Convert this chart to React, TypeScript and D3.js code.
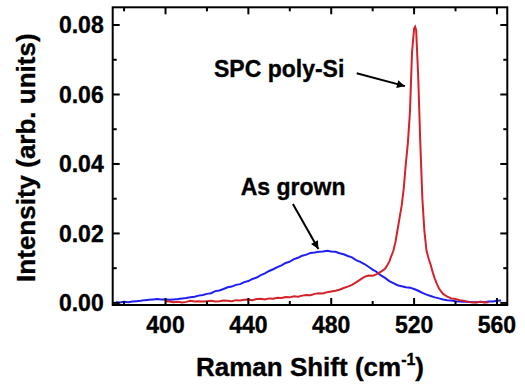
import * as d3 from "d3";

// ── Data ──────────────────────────────────────────────────────────────────────
const grownShift = [
  376, 378, 380, 382, 384, 386, 388, 390, 392, 394, 396, 398, 400, 402, 404,
  406, 408, 410, 412, 414, 416, 418, 420, 422, 424, 426, 428, 430, 432, 434,
  436, 438, 440, 442, 444, 446, 448, 450, 452, 454, 456, 458, 460, 462, 464,
  466, 468, 470, 472, 474, 476, 478, 480, 482, 484, 486, 488, 490, 492, 494,
  496, 498, 500, 502, 504, 506, 508, 510, 512, 514, 516, 518, 520, 522, 524,
  526, 528, 530, 532, 534, 536, 538, 540, 542, 544, 546, 548, 550, 552, 554,
  556, 558, 560, 562,
];
const grownIntensity = [
  0.0002, 0.0001, 0.0003, 0.0002, 0.0004, 0.0005, 0.0006, 0.0008, 0.0009,
  0.001, 0.0011, 0.001, 0.001, 0.0009, 0.001, 0.0011, 0.0013, 0.0014, 0.0016,
  0.0018, 0.0021, 0.0023, 0.0026, 0.0028, 0.0034, 0.0036, 0.004, 0.0045,
  0.0047, 0.0052, 0.0054, 0.006, 0.0063, 0.0069, 0.0073, 0.008, 0.0085,
  0.0092, 0.0097, 0.0103, 0.0108, 0.0115, 0.0119, 0.0126, 0.013, 0.0136,
  0.0139, 0.0144, 0.0145, 0.0147, 0.0148, 0.015, 0.0148, 0.0147, 0.0143,
  0.014, 0.0135, 0.0131, 0.0123, 0.0118, 0.0112, 0.0104, 0.0096, 0.0089,
  0.0079, 0.0072, 0.0063, 0.0057, 0.0051, 0.0048, 0.0045, 0.0044, 0.004,
  0.0035, 0.0029, 0.0024, 0.002, 0.0016, 0.0013, 0.001, 0.0008, 0.0007,
  0.0005, 0.0004, 0.0003, 0.0003, 0.0002, 0.0002, 0.0003, 0.0002, 0.0004,
  0.0004, 0.0006, 0.0007,
];

const spcShift = [
  400, 402, 404, 406, 408, 410, 412, 414, 416, 418, 420, 422, 424, 426, 428,
  430, 432, 434, 436, 438, 440, 442, 444, 446, 448, 450, 452, 454, 456, 458,
  460, 462, 464, 466, 468, 470, 472, 474, 476, 478, 480, 482, 484, 486, 488,
  490, 492, 494, 496, 498, 500, 502, 504, 506, 508, 509, 510, 511, 512, 513,
  514, 515, 516, 517, 518, 519, 520, 520.5, 521, 522, 523, 524, 525, 526, 527,
  528, 529, 530, 531, 532, 533, 534, 535, 536, 538, 540, 542, 544, 546, 548,
  550, 552, 554, 556,
];
const spcIntensity = [
  0.0005, 0.0004, 0.0002, 0.0003, 0.0001, 0.0003, 0.0006, 0.0004, 0.0005,
  0.0004, 0.0005, 0.0006, 0.0004, 0.0005, 0.0007, 0.0006, 0.0005, 0.0008,
  0.0007, 0.0009, 0.001, 0.0008, 0.0011, 0.0012, 0.001, 0.0013, 0.0012,
  0.0015, 0.0014, 0.0017, 0.0016, 0.0019, 0.0018, 0.0021, 0.0023, 0.0022,
  0.0026, 0.0028, 0.0027, 0.0031, 0.0033, 0.0035, 0.0038, 0.0043, 0.0047,
  0.0052, 0.0059, 0.0067, 0.0075, 0.0079, 0.0078, 0.0083, 0.009, 0.0098,
  0.0118, 0.0135, 0.015, 0.0175, 0.021, 0.0245, 0.028, 0.033, 0.04, 0.046,
  0.055, 0.072, 0.079, 0.0795, 0.0785, 0.065, 0.046, 0.03, 0.0205, 0.015,
  0.0128, 0.011, 0.0088, 0.007, 0.0055, 0.0042, 0.0033, 0.0026, 0.0022,
  0.0018, 0.0013, 0.0011, 0.0008, 0.0006, 0.0003, 0.0002, 0.0001, 0.0003,
  0.0001, 0.0002,
];

const xMajorTicks = [400, 440, 480, 520, 560];
const xMinorTicks = [380, 420, 460, 500, 540];
const yMajorTicks = [0, 0.02, 0.04, 0.06, 0.08];
const yMinorTicks = [0.01, 0.03, 0.05, 0.07];

// ── Dimensions ────────────────────────────────────────────────────────────────
const width = 525;
const height = 386;
const margin = { top: 7.3, right: 17.7, bottom: 81, left: 112.7 };
const font = "'Liberation Sans', Arial, sans-serif";
const blue = "#1f1ff5";
const red = "#d3222a";

export default function App() {
  const x = d3
    .scaleLinear()
    .domain([374.5, 565])
    .range([margin.left, width - margin.right]);
  const y = d3
    .scaleLinear()
    .domain([-0.0006, 0.0851])
    .range([height - margin.bottom, margin.top]);

  const line = d3
    .line<[number, number]>()
    .x((d) => x(d[0]))
    .y((d) => y(d[1]));

  const grown = grownShift.map((s, i) => [s, grownIntensity[i]] as [number, number]);
  const spc = spcShift.map((s, i) => [s, spcIntensity[i]] as [number, number]);

  const x0 = margin.left;
  const x1 = width - margin.right;
  const y0 = height - margin.bottom;
  const y1 = margin.top;

  const fmt = d3.format(".2f");

  return (
    <svg
      width={width}
      height={height}
      style={{ position: "absolute", left: 0, top: 0, background: "#fff" }}
      fontFamily={font}
      fontWeight="bold"
    >
      <defs>
        <marker
          id="arrow"
          viewBox="0 0 10 10"
          refX="10"
          refY="5"
          markerWidth="7"
          markerHeight="4"
          markerUnits="strokeWidth"
          orient="auto"
        >
          <path d="M0,0 L10,5 L0,10 z" fill="#000" />
        </marker>
      </defs>

      {/* curves */}
      <path d={line(grown) ?? ""} fill="none" stroke={blue} strokeWidth={2} />
      <path d={line(spc) ?? ""} fill="none" stroke={red} strokeWidth={2} />

      {/* ticks on all four sides */}
      {xMajorTicks.map((t) => (
        <g key={"xM" + t}>
          <line x1={x(t)} x2={x(t)} y1={y0} y2={y0 - 7} stroke="#000" strokeWidth={2} />
          <line x1={x(t)} x2={x(t)} y1={y1} y2={y1 + 7} stroke="#000" strokeWidth={2} />
          <text x={x(t)} y={333.3} textAnchor="middle" fontSize={23} stroke="#000" strokeWidth={0.35}>
            {t}
          </text>
        </g>
      ))}
      {xMinorTicks.map((t) => (
        <g key={"xm" + t}>
          <line x1={x(t)} x2={x(t)} y1={y0} y2={y0 - 4} stroke="#000" strokeWidth={2} />
          <line x1={x(t)} x2={x(t)} y1={y1} y2={y1 + 4} stroke="#000" strokeWidth={2} />
        </g>
      ))}
      {yMajorTicks.map((t) => (
        <g key={"yM" + t}>
          <line x1={x0} x2={x0 + 7} y1={y(t)} y2={y(t)} stroke="#000" strokeWidth={2} />
          <line x1={x1} x2={x1 - 7} y1={y(t)} y2={y(t)} stroke="#000" strokeWidth={2} />
          <text x={x0 - 9} y={y(t) + 8.2} textAnchor="end" fontSize={23} stroke="#000" strokeWidth={0.35}>
            {fmt(t)}
          </text>
        </g>
      ))}
      {yMinorTicks.map((t) => (
        <g key={"ym" + t}>
          <line x1={x0} x2={x0 + 4} y1={y(t)} y2={y(t)} stroke="#000" strokeWidth={2} />
          <line x1={x1} x2={x1 - 4} y1={y(t)} y2={y(t)} stroke="#000" strokeWidth={2} />
        </g>
      ))}

      {/* frame */}
      <rect x={x0} y={y1} width={x1 - x0} height={y0 - y1} fill="none" stroke="#000" strokeWidth={2} />

      {/* axis titles */}
      <text x={(x0 + x1) / 2} y={376} textAnchor="middle" fontSize={26} stroke="#000" strokeWidth={0.35}>
        Raman Shift (cm
        <tspan fontSize={16} dy={-11}>
          -1
        </tspan>
        <tspan dy={11}>)</tspan>
      </text>
      <text
        transform={`translate(35,${(y0 + y1) / 2 + 1.5}) rotate(-90)`}
        textAnchor="middle"
        fontSize={26}
        stroke="#000"
        strokeWidth={0.35}
      >
        Intensity (arb. units)
      </text>

      {/* annotations */}
      <text x={x(423.4)} y={y(0.065)} fontSize={23} stroke="#000" strokeWidth={0.35}>
        SPC poly-Si
      </text>
      <line
        x1={x(492.3)}
        y1={y(0.0661)}
        x2={x(515.6)}
        y2={y(0.0624)}
        stroke="#000"
        strokeWidth={2}
        markerEnd="url(#arrow)"
      />
      <text x={x(436.3)} y={y(0.0311)} fontSize={23} stroke="#000" strokeWidth={0.35}>
        As grown
      </text>
      <line
        x1={x(461.5)}
        y1={y(0.0285)}
        x2={x(473.8)}
        y2={y(0.0155)}
        stroke="#000"
        strokeWidth={2}
        markerEnd="url(#arrow)"
      />
    </svg>
  );
}
